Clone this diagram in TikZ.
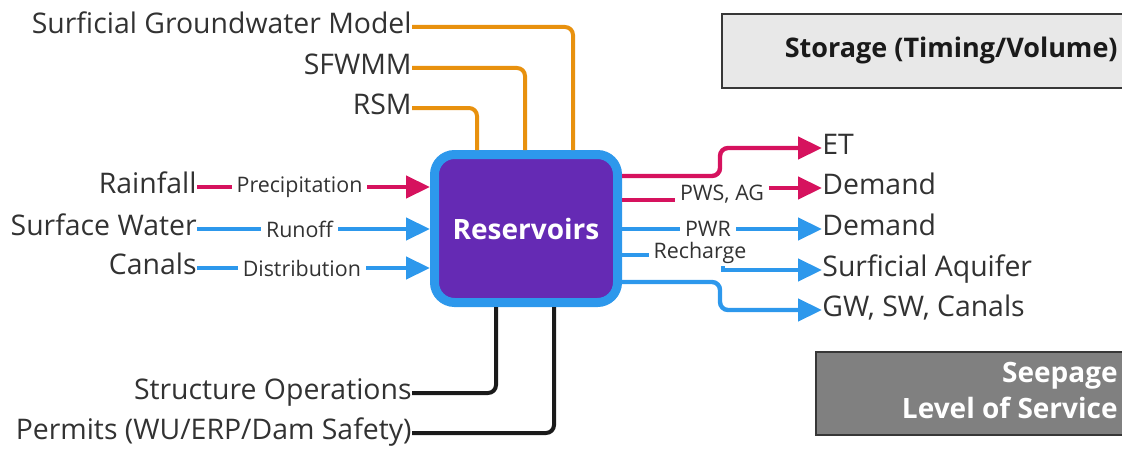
\documentclass[tikz,border=0pt]{standalone}
\usepackage{fontspec}
\setmainfont{Open Sans}
\usetikzlibrary{arrows.meta,positioning,calc}
\definecolor{resBlue}{RGB}{45,152,236}
\definecolor{resPurple}{RGB}{101,42,180}
\definecolor{resPink}{RGB}{214,18,94}
\definecolor{resOrange}{RGB}{232,145,14}
\definecolor{resInk}{RGB}{26,26,26}
\definecolor{resText}{RGB}{50,50,50}
\definecolor{boxEdge}{RGB}{55,55,55}
\definecolor{storFill}{RGB}{232,232,232}
\definecolor{seepFill}{RGB}{128,128,128}

\tikzset{
  lbl/.style={inner sep=0pt, text=resText, font=\fontsize{14.2}{17}\selectfont,
    text height=0.64em, text depth=0pt},
  tag/.style={fill=white, inner xsep=2.5pt, inner ysep=1pt, text=resText,
    font=\fontsize{10.7}{12}\selectfont},
  flow/.style={line width=2.2pt, -{Triangle[length=12pt,width=11pt]}},
  feed/.style={line width=2pt, rounded corners=4pt},
  resbox/.style={draw=resBlue, line width=4.5pt, fill=resPurple, rounded corners=10pt,
    minimum width=91.5pt, minimum height=74pt, text=white,
    font=\bfseries\fontsize{14}{16}\selectfont},
  infobox/.style={line width=1pt, draw=boxEdge},
}

\begin{document}
\begin{tikzpicture}[x=0.5pt,y=-0.5pt]
  \useasboundingbox (0,0) rectangle (1122,449);
  % reservoir
  \node[resbox] (res) at (526,228.5) {Reservoirs};
  % models (top)
  \node[lbl,anchor=east] (sgm) at (412,27) {Surficial Groundwater Model};
  \node[lbl,anchor=east] (sfwmm) at (412,68) {SFWMM};
  \node[lbl,anchor=east] (rsm) at (412,108) {RSM};
  \draw[feed,resOrange] (sgm.east) -| (res.north -| 573,0);
  \draw[feed,resOrange] (sfwmm.east) -| (res.north -| 525,0);
  \draw[feed,resOrange] (rsm.east) -| (res.north -| 477,0);
  % inflows
  \node[lbl,anchor=east] (rain) at (197,187) {Rainfall};
  \node[lbl,anchor=east] (surf) at (197,229) {Surface Water};
  \node[lbl,anchor=east] (canal) at (197,268) {Canals};
  \draw[flow,resPink] (rain.east) -- node[tag,pos=0.44] (precip) {Precipitation} (rain.east -| res.west);
  \draw[flow,resBlue] (surf.east) -- node[tag,pos=0.44] (runoff) {Runoff} (surf.east -| res.west);
  \draw[flow,resBlue] (canal.east) -- node[tag,pos=0.45] (distr) {Distribution} (canal.east -| res.west);
  % outflows
  \node[lbl,anchor=west] (et) at (822,148) {ET};
  \node[lbl,anchor=west] (dmag) at (822,188) {Demand};
  \node[lbl,anchor=west] (dpwr) at (822,229) {Demand};
  \node[lbl,anchor=west] (aquif) at (822,270) {Surficial Aquifer};
  \node[lbl,anchor=west] (gwsw) at (822,310) {GW, SW, Canals};
  \draw[flow,resPink,rounded corners=4pt] (res.east |- 0,176) -- (720,176) |- (et.west);
  \draw[flow,resPink] (res.east |- 0,200) -- (722,200) -- node[tag] (pwsag) {PWS, AG} (722,188) -- (dmag.west);
  \draw[flow,resBlue] (res.east |- dpwr.west) -- node[tag,pos=0.43] (pwr) {PWR} (dpwr.west);
  \draw[flow,resBlue] (res.east |- 0,255) -- (723,255) -- (723,270) -- (aquif.west);
  \node[tag] (rech) at (700,253) {Recharge};
  \draw[flow,resBlue,rounded corners=4pt] (res.east |- 0,282) -- (720,282) |- (gwsw.west);
  % operations (bottom)
  \node[lbl,anchor=east] (strops) at (412,393) {Structure Operations};
  \node[lbl,anchor=east] (permit) at (412,433) {Permits (WU/ERP/Dam Safety)};
  \draw[feed,resInk] (res.south -| 496,0) |- (strops.east);
  \draw[feed,resInk] (res.south -| 554,0) |- (permit.east);
  % side boxes
  \draw[infobox,fill=storFill] (722,14) rectangle (1140,88);
  \node[anchor=east,inner sep=0pt,text=resInk,font=\bfseries\fontsize{13.5}{16}\selectfont] (stor) at (1118,50) {Storage (Timing/Volume)};
  \draw[infobox,fill=seepFill] (816,352) rectangle (1140,435);
  \node[anchor=east,align=right,inner sep=0pt,text=white,font=\bfseries\fontsize{14}{18}\selectfont] (seep) at (1118,390) {Seepage\\Level of Service};
\end{tikzpicture}
\end{document}
